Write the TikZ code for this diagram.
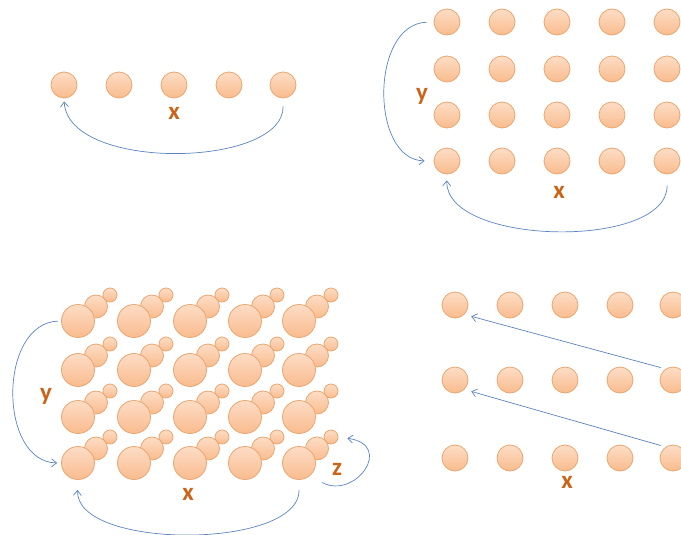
\documentclass[tikz,border=0pt]{standalone}
\usepackage{fontspec}
\setmainfont{Carlito}
\usetikzlibrary{arrows.meta}
\definecolor{ballTop}{HTML}{FDDDC6}
\definecolor{ballBot}{HTML}{F9BC8E}
\definecolor{ballEdge}{HTML}{E9A670}
\definecolor{labOrange}{HTML}{CB6418}
\definecolor{arrBlue}{HTML}{5B84BF}
\tikzset{
  ball/.style={circle, draw=ballEdge, line width=0.8pt, top color=ballTop, bottom color=ballBot, inner sep=0pt, minimum size=#1},
  ball/.default=26pt,
  axislab/.style={text=labOrange, font=\bfseries\fontsize{25}{25}\selectfont, inner sep=0pt},
  turn/.style={draw=arrBlue, line width=0.7pt, -{Straight Barb[length=5pt,width=8pt]}}
}
\begin{document}
\begin{tikzpicture}[x=1pt,y=-1pt]
\useasboundingbox (0,0) rectangle (681,535);
\clip (0,0) rectangle (681,535);

% ---------- panel 1 ----------
\foreach \c/\x in {1/64,2/119,3/174,4/229,5/283}
  \node[ball] (p1c\c) at (\x,85) {};
\node[axislab] (p1x) at (174,113) {x};
\draw[turn, shorten <=8pt, shorten >=3pt] (p1c5.south) .. controls (284,168) and (68,172) .. (p1c1.south);

% ---------- panel 2 ----------
\foreach \r/\y in {1/22,2/69,3/115,4/161}
  \foreach \c/\x in {1/447,2/502,3/557,4/612,5/667}
    \node[ball] (p2c\r\c) at (\x,\y) {};
\node[axislab] (p2y) at (422,96) {y};
\node[axislab] (p2x) at (559,192) {x};
\draw[turn, shorten <=7pt, shorten >=9pt] (p2c11.west) .. controls (370,24) and (370,160) .. (p2c41.west);
\draw[turn, shorten <=11pt, shorten >=6pt] (p2c45.south) .. controls (668,250) and (445,246) .. (p2c41.south);

% ---------- panel 3 ----------
\foreach \r/\y in {1/321,2/370,3/417,4/463}
  \foreach \c/\x in {1/78,2/134,3/190,4/245,5/299}{
    \node[ball=14pt] (p3s\r\c) at (\x+32,\y-26) {};
    \node[ball=23pt] (p3m\r\c) at (\x+18,\y-14.5) {};
    \node[ball=33pt] (p3b\r\c) at (\x,\y) {};
  }
\node[axislab] (p3y) at (46,396) {y};
\node[axislab] (p3x) at (188,494) {x};
\node[axislab] (p3z) at (337,469) {z};
\draw[turn, shorten <=3pt, shorten >=4pt] (p3b11.west) .. controls (-2,323) and (-2,462) .. (p3b41.west);
\draw[turn, shorten <=10pt, shorten >=10pt] (p3b45.south) .. controls (300,550) and (75,550) .. (p3b41.south);
\draw[turn, shorten <=14pt, shorten >=9pt] (p3b45.-50) .. controls (355,500) and (395,445) .. (p3s45.east);

% ---------- panel 4 ----------
\foreach \r/\y in {1/305,2/380,3/458}
  \foreach \c/\x in {1/455,2/510,3/565,4/620,5/673}
    \node[ball] (p4c\r\c) at (\x,\y) {};
\node[axislab] (p4x) at (567,482) {x};
\draw[turn, shorten <=5pt, shorten >=7pt] (p4c25.124) -- (p4c11.-45);
\draw[turn, shorten <=5pt, shorten >=7pt] (p4c35.124) -- (p4c21.-45);
\end{tikzpicture}
\end{document}
